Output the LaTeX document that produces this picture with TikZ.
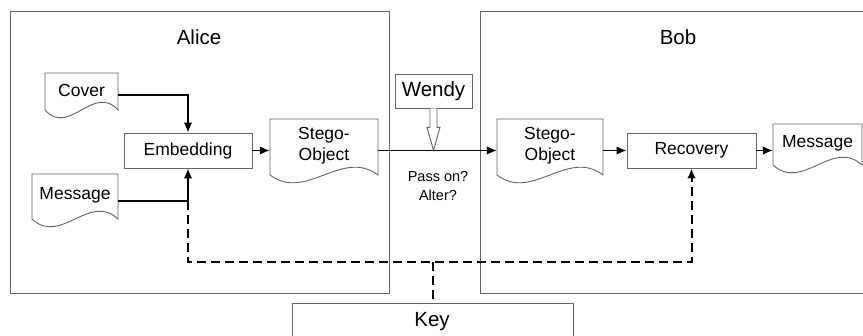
\documentclass[tikz,border=0pt]{standalone}
\usepackage{fontspec}
\setmainfont{Liberation Sans}
\usetikzlibrary{arrows.meta,calc}
\definecolor{boxgray}{RGB}{100,100,100}
\newcommand\bigfont{\fontsize{20.5}{24}\selectfont}
\newcommand\midfont{\fontsize{17.5}{21}\selectfont}
\newcommand\smallfont{\fontsize{14.5}{19}\selectfont}
\newcommand\docpaper[6]{% name, x1, top, x2, side bottom, text
  \pgfmathsetmacro\dpw{#4-#2}%
  \pgfmathsetmacro\dph{#5-#3}%
  \pgfmathsetmacro\dpx{(#2+#4)/2}%
  \pgfmathsetmacro\dpy{(#3+#5)/2-1.5}%
  \node[doc, minimum width=\dpw pt, minimum height=\dph pt] (#1) at (\dpx,\dpy) {#6};
  \draw[frame] (#2,#5) -- (#2,#3) -- (#4,#3) -- (#4,#5)
    .. controls ({#4-\dpw/3},{#5-27}) and ({#2+\dpw/3},{#5+27}) .. (#2,#5) -- cycle;
}
\begin{document}
\begin{tikzpicture}[x=1pt,y=-1pt,
  frame/.style={draw=boxgray, line width=0.9pt},
  box/.style={frame, inner sep=0pt, font=\midfont},
  doc/.style={inner sep=0pt, font=\midfont, align=center},
  tip/.style={-{Latex[length=10pt,width=8.5pt]}},
  flow/.style={draw=black, line width=1.4pt, tip},
  plain/.style={draw=black, line width=1.4pt},
  keyline/.style={draw=black, line width=2pt, dash pattern=on 9pt off 5pt},
]
\fill[white] (0,0) rectangle (863,336);
\useasboundingbox (0,0) rectangle (863,336);
\clip (0,0) rectangle (863,336);

% party frames
\node[frame, inner sep=0pt, minimum width=379pt, minimum height=282pt] (alice) at (199.5,152) {};
\node[font=\bigfont] (alicelbl) at (199,37) {Alice};
\node[frame, inner sep=0pt, minimum width=392pt, minimum height=282pt] (bob) at (676,152) {};
\node[font=\bigfont] (boblbl) at (678,37) {Bob};
\node[frame, inner sep=0pt, minimum width=281pt, minimum height=60pt] (key) at (432.5,333) {};
\node[font=\bigfont] (keylbl) at (432,322) {Key};

% Alice side
\docpaper{cover}{45}{73}{118}{110}{Cover}
\docpaper{amsg}{32}{174}{118}{219}{Message}
\node[box, minimum width=128pt, minimum height=35pt] (emb) at (188,150.5) {Embedding};
\docpaper{ast}{270}{119}{378}{175}{Stego-\\Object}

% Wendy
\node[box, font=\bigfont, minimum width=77pt, minimum height=34pt] (wendy) at (433.5,91) {Wendy};
\node[font=\smallfont, align=center] (ask) at (438,186.5) {Pass on?\\Alter?};

% Bob side
\docpaper{bst}{497}{119}{603}{175}{Stego-\\Object}
\node[box, minimum width=129pt, minimum height=35pt] (rec) at (691.5,150.5) {Recovery};
\docpaper{bmsg}{773}{124}{862}{165}{Message}

% connectors
\draw[flow] ([yshift=-5pt]cover.east) -| (emb.north);
\path ([yshift=-6pt]amsg.east) coordinate (msgout);
\coordinate (junc) at (emb.south |- msgout);
\draw[plain] (msgout) -- (junc);
\draw[flow] (junc) -- (emb.south);
\draw[flow] (emb.east) -- (ast.west |- emb.east);
\draw[flow] (ast.east |- emb.east) -- (bst.west |- emb.east);
\draw[flow] (bst.east |- rec.west) -- (rec.west);
\draw[flow] (rec.east) -- (bmsg.west |- rec.east);

% key lines
\coordinate (split) at (432.5,262);
\draw[keyline, tip] (junc) |- (split) -| (rec.south);
\draw[keyline] (split) -- (key.north);

% Wendy's hollow arrow
\draw[frame, fill=white] ([xshift=-3.5pt]wendy.south) -- ++(0,19) -- ++(-3,0) -- ++(6.5,23)
  -- ++(6.5,-23) -- ++(-3,0) -- ++(0,-19);
\end{tikzpicture}
\end{document}
